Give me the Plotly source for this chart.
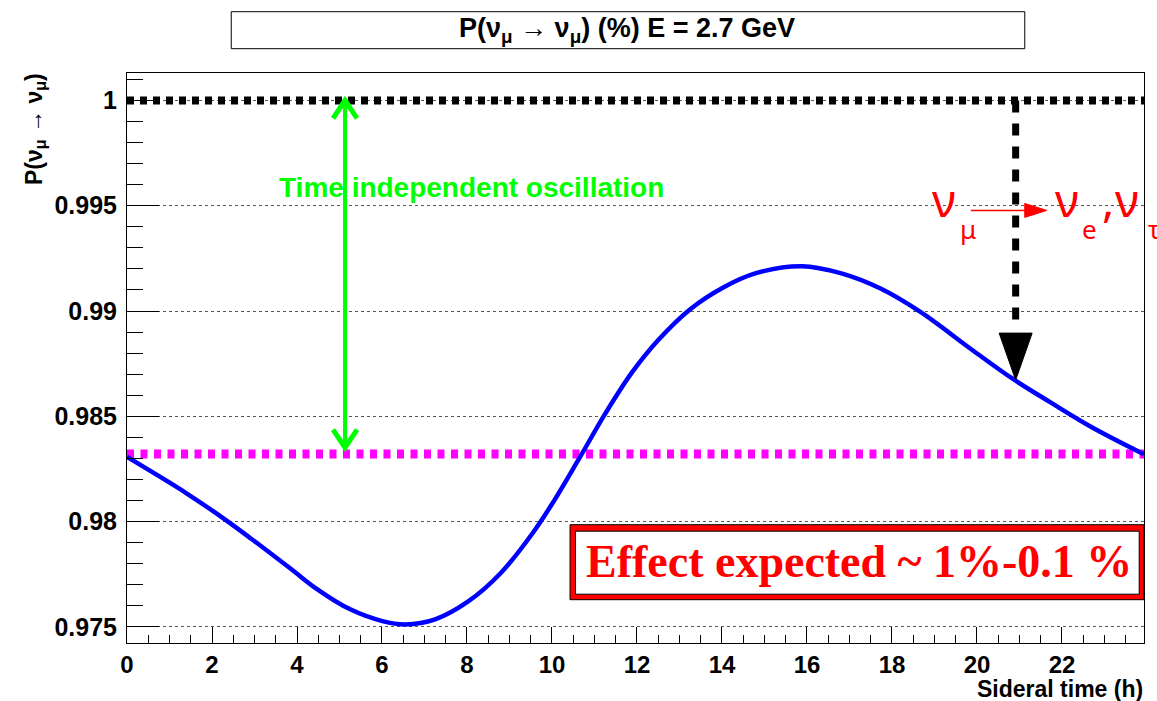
import plotly.graph_objects as go

# ---------------- data ----------------
hours = [0.00, 1.39, 2.31, 2.93, 3.86, 4.47, 5.24, 6.01, 6.55, 7.25, 8.02, 8.79,
         9.56, 10.02, 10.64, 11.26, 11.87, 12.49, 13.26, 14.03, 14.80, 15.88,
         16.81, 17.73, 18.66, 19.89, 20.82, 21.74, 22.67, 23.93]
prob = [0.98307, 0.98136, 0.98010, 0.97918, 0.97775, 0.97680, 0.97585, 0.97528,
        0.97512, 0.97536, 0.97620, 0.97755, 0.97950, 0.98090, 0.98300, 0.98515,
        0.98705, 0.98860, 0.99010, 0.99112, 0.99180, 0.99213, 0.99179, 0.99107,
        0.98997, 0.98815, 0.98681, 0.98565, 0.98452, 0.98320]
x_tick_vals = [0, 2, 4, 6, 8, 10, 12, 14, 16, 18, 20, 22]
x_tick_text = [str(v) for v in x_tick_vals]
y_tick_vals = [0.975, 0.98, 0.985, 0.99, 0.995, 1.0]
y_tick_text = ["0.975", "0.98", "0.985", "0.99", "0.995", "1"]
no_osc_level = 1.0
mean_level = 0.98321
x_max = 23.93
y_min, y_max = 0.97424, 1.0013

# ---------------- geometry helpers (pixel -> paper) ----------------
W, H = 1157, 701
L, R, T, B = 126.7, 1144.3, 73.3, 643.3


def px(X):
    return (X - L) / (R - L)


def py(Y):
    return (B - Y) / (B - T)


SANS = "Liberation Sans"
fig = go.Figure()

fig.add_trace(go.Scatter(x=[0, x_max], y=[mean_level, mean_level], mode="lines",
                         line=dict(color="#ff00ff", width=9, dash="7px,6.5px"),
                         hoverinfo="skip", showlegend=False))
fig.add_trace(go.Scatter(x=hours, y=prob, mode="lines",
                         line=dict(color="#0000ff", width=4.5, shape="spline", smoothing=1.0),
                         showlegend=False))
fig.add_trace(go.Scatter(x=[0, x_max], y=[no_osc_level, no_osc_level], mode="lines",
                         line=dict(color="black", width=8, dash="7px,6px"),
                         hoverinfo="skip", showlegend=False))

shapes = []
# green double arrow
gx = 5.13
g_low = 0.98351
shapes.append(dict(type="line", xref="x", yref="y", x0=gx, x1=gx, y0=no_osc_level, y1=g_low,
                   line=dict(color="#00ff00", width=4)))
shapes.append(dict(type="path", xref="x", yref="y", xsizemode="pixel", ysizemode="pixel",
                   xanchor=gx, yanchor=no_osc_level, path="M -12,-18 L 0,0 L 12,-18",
                   line=dict(color="#00ff00", width=5)))
shapes.append(dict(type="path", xref="x", yref="y", xsizemode="pixel", ysizemode="pixel",
                   xanchor=gx, yanchor=g_low, path="M -12,18 L 0,0 L 12,18",
                   line=dict(color="#00ff00", width=5)))
# black dashed arrow
bx = 20.91
shapes.append(dict(type="line", xref="x", yref="y", x0=bx, x1=bx, y0=no_osc_level, y1=0.9891,
                   line=dict(color="black", width=7, dash="12px,11px")))
shapes.append(dict(type="path", xref="x", yref="y", xsizemode="pixel", ysizemode="pixel",
                   xanchor=bx, yanchor=0.98672, path="M -16.5,47 L 16.5,47 L 0,0 Z",
                   fillcolor="black", line=dict(color="black", width=1)))
# red small arrow
shapes.append(dict(type="line", xref="paper", yref="paper", x0=px(971), x1=px(1030),
                   y0=py(210.7), y1=py(210.7), line=dict(color="#ff0000", width=1.5)))
shapes.append(dict(type="path", xref="paper", yref="paper", xsizemode="pixel", ysizemode="pixel",
                   xanchor=px(1047), yanchor=py(210.7), path="M 0,0 L -22,7 L -22,-7 Z",
                   fillcolor="#ff0000", line=dict(color="#ff0000", width=1)))
# title box
shapes.append(dict(type="rect", xref="paper", yref="paper", x0=px(231), x1=px(1025),
                   y0=py(49), y1=py(12), fillcolor="white", line=dict(color="black", width=1)))
# effect box
shapes.append(dict(type="rect", xref="paper", yref="paper", x0=px(570), x1=px(1144.3),
                   y0=py(600), y1=py(525), fillcolor="#ff0000", line=dict(color="black", width=1)))
shapes.append(dict(type="rect", xref="paper", yref="paper", x0=px(575.5), x1=px(1139.5),
                   y0=py(594.5), y1=py(531.5), fillcolor="white", line=dict(color="black", width=1)))

ann = []


def text_ann(X, Y, txt, font, xanchor="center", yanchor="middle", **kw):
    d = dict(xref="paper", yref="paper", x=px(X), y=py(Y), xanchor=xanchor, yanchor=yanchor,
             showarrow=False, text=txt, font=font)
    d.update(kw)
    ann.append(d)


text_ann(627, 30.5, "P(ν<sub>μ</sub> → ν<sub>μ</sub>) (%) E = 2.7 GeV",
         dict(family=SANS, size=27, color="black", weight="bold"))
text_ann(471.5, 188, "Time independent oscillation",
         dict(family=SANS, size=28, color="#00ff00", weight="bold"))
text_ann(859, 562, "Effect expected ~ 1%-0.1 %",
         dict(family="Liberation Serif", size=46, color="#ff0000", weight="bold"))
# red nu labels
NU = "Noto Sans"
for xx, yy, txt, sz in [(930, 199, "ν", 46), (958, 229, "μ", 26), (1053, 199, "ν", 46),
                        (1080, 229, "e", 26), (1100, 199, ",", 46), (1113, 199, "ν", 46),
                        (1146, 229, "τ", 26)]:
    text_ann(xx, yy, txt, dict(family=NU, size=sz, color="#ff0000"), xanchor="left")
# axis titles
text_ann(35, 129, "P(ν<sub>μ</sub> → ν<sub>μ</sub>)",
         dict(family=SANS, size=23, color="black", weight="bold"), textangle=-90)
text_ann(1145, 689, "Sideral time (h)",
         dict(family=SANS, size=23, color="black", weight="bold"), xanchor="right")

fig.update_layout(
    width=W, height=H,
    margin=dict(l=L, r=W - R, t=T, b=H - B, pad=0),
    paper_bgcolor="white", plot_bgcolor="white",
    shapes=shapes, annotations=ann, showlegend=False,
    font=dict(family=SANS, color="black"),
)
fig.update_xaxes(range=[0, x_max], tickvals=x_tick_vals, ticktext=x_tick_text,
                 ticks="inside", ticklen=16, tickwidth=1, tickcolor="black",
                 minor=dict(dtick=0.5, tick0=0, ticks="inside", ticklen=8, tickcolor="black"),
                 showgrid=False, zeroline=False, showline=True, linecolor="black", linewidth=1,
                 mirror=True, tickfont=dict(family=SANS, size=24, color="black", weight="bold"),
                 ticklabelstandoff=0)
fig.update_yaxes(range=[y_min, y_max], tickvals=y_tick_vals, ticktext=y_tick_text,
                 ticks="inside", ticklen=32, tickwidth=1, tickcolor="black",
                 minor=dict(dtick=0.001, tick0=0.975, ticks="inside", ticklen=16, tickcolor="black"),
                 showgrid=True, gridcolor="#555555", griddash="dot", gridwidth=1,
                 zeroline=False, showline=True, linecolor="black", linewidth=1,
                 mirror=True, tickfont=dict(family=SANS, size=25, color="black", weight="bold"),
                 ticklabelstandoff=4)

fig.write_html("out.html", config={"displayModeBar": False},
               post_script="document.body.style.margin='0';")
